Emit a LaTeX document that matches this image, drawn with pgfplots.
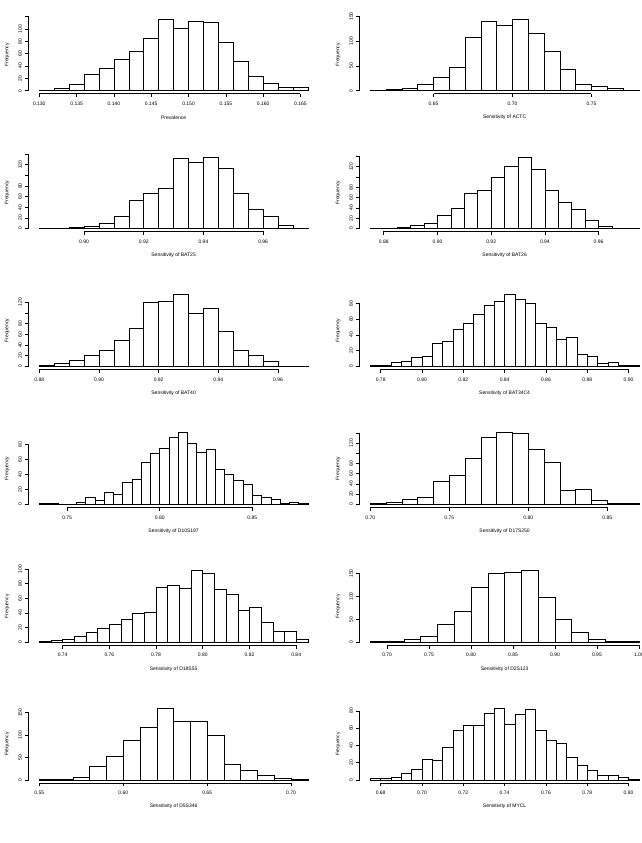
\documentclass[border=0pt]{standalone}
\usepackage{fontspec}
\setmainfont{Liberation Sans}
\usepackage{pgfplots}
\pgfplotsset{compat=1.18}
\newcommand{\lims}[3]{%
  \pgfmathsetmacro{\XL}{#1-0.04*(#2-#1)}%
  \pgfmathsetmacro{\XH}{#2+0.04*(#2-#1)}%
  \pgfmathsetmacro{\YL}{-0.04*#3}%
  \pgfmathsetmacro{\YH}{1.04*#3}}
\newcommand{\rax}[3]{%
  \draw[line width=0.6bp] (axis cs:#1,\YL) -- (axis cs:#2,\YL);
  \draw[line width=0.6bp] (axis cs:\XL,0) -- (axis cs:\XL,#3);}
\pgfplotsset{rh/.style={
  scale only axis, width=290bp, height=77.5bp, anchor=south west,
  xmin=\XL, xmax=\XH, ymin=\YL, ymax=\YH,
  axis lines*=left, axis line style={draw=none,-},
  tick align=outside, major tick length=3.5bp,
  tick style={black, line width=0.6bp},
  minor tick num=0,
  ticklabel style={font=\fontsize{5bp}{6bp}\selectfont, inner sep=1.5bp},
  xticklabel style={anchor=north},
  yticklabel style={rotate=90, anchor=south},
  xticklabel shift=3.2bp, yticklabel shift=1.6bp,
  ylabel=Frequency,
  xlabel style={at={(axis description cs:0.5,-0.306)}, anchor=center, font=\fontsize{5bp}{6bp}\selectfont},
  ylabel style={at={(axis description cs:-0.0741,0.5)}, rotate=0, anchor=center, font=\fontsize{5bp}{6bp}\selectfont},
  clip=false,
}}
\tikzset{hbar/.style={ybar interval, fill=white, draw=black, line width=0.6bp}}
\begin{document}
\begin{tikzpicture}
\useasboundingbox (0,0) rectangle (642bp,843bp);
% ---------- Row 1 ----------
\lims{0.130}{0.166}{116}
\begin{axis}[rh, at={(28.6bp,749.4bp)}, xlabel={Prevalence},
  xtick={0.130,0.135,0.140,0.145,0.150,0.155,0.160,0.165},
  xticklabels={0.130,0.135,0.140,0.145,0.150,0.155,0.160,0.165},
  ytick={0,20,40,60,80,100,120}, yticklabels={0,20,40,60,80,100,}]
\addplot[hbar] coordinates {(0.130,1)(0.132,4)(0.134,10)(0.136,26)(0.138,36)(0.140,50)(0.142,64)(0.144,84)(0.146,116)(0.148,101)(0.150,112)(0.152,110)(0.154,78)(0.156,47)(0.158,24)(0.160,12)(0.162,6)(0.164,5)(0.166,0)};
\rax{0.130}{0.165}{120}
\end{axis}
\lims{0.61}{0.78}{145}
\begin{axis}[rh, at={(359.6bp,749.4bp)}, xlabel={Sensitivity of ACTC},
  xtick={0.65,0.70,0.75}, xticklabels={0.65,0.70,0.75},
  ytick={0,50,100,150}, yticklabels={0,50,100,150}]
\addplot[hbar] coordinates {(0.61,1)(0.62,3)(0.63,5)(0.64,12)(0.65,28)(0.66,48)(0.67,107)(0.68,140)(0.69,132)(0.70,145)(0.71,117)(0.72,80)(0.73,44)(0.74,12)(0.75,9)(0.76,5)(0.77,1)(0.78,0)};
\rax{0.65}{0.75}{150}
\end{axis}
% ---------- Row 2 ----------
\lims{0.885}{0.975}{135}
\begin{axis}[rh, at={(28.6bp,611.54bp)}, xlabel={Sensitivity of BAT25},
  xtick={0.90,0.92,0.94,0.96}, xticklabels={0.90,0.92,0.94,0.96},
  ytick={0,20,40,60,80,100,120,140}, yticklabels={0,20,40,60,80,,120,}]
\addplot[hbar] coordinates {(0.885,1)(0.890,1)(0.895,3)(0.900,4)(0.905,10)(0.910,24)(0.915,54)(0.920,66)(0.925,76)(0.930,132)(0.935,124)(0.940,135)(0.945,114)(0.950,67)(0.955,37)(0.960,24)(0.965,7)(0.970,1)(0.975,0)};
\rax{0.90}{0.96}{140}
\end{axis}
\lims{0.875}{0.975}{139}
\begin{axis}[rh, at={(359.6bp,611.54bp)}, xlabel={Sensitivity of BAT26},
  xtick={0.88,0.90,0.92,0.94,0.96}, xticklabels={0.88,0.90,0.92,0.94,0.96},
  ytick={0,20,40,60,80,100,120,140}, yticklabels={0,20,40,60,80,,120,}]
\addplot[hbar] coordinates {(0.875,1)(0.880,1)(0.885,3)(0.890,6)(0.895,10)(0.900,26)(0.905,39)(0.910,68)(0.915,74)(0.920,100)(0.925,121)(0.930,139)(0.935,115)(0.940,74)(0.945,50)(0.950,37)(0.955,17)(0.960,5)(0.965,1)(0.970,1)(0.975,0)};
\rax{0.88}{0.96}{140}
\end{axis}
% ---------- Row 3 ----------
\lims{0.880}{0.970}{134}
\begin{axis}[rh, at={(28.6bp,473.68bp)}, xlabel={Sensitivity of BAT40},
  xtick={0.88,0.90,0.92,0.94,0.96}, xticklabels={0.88,0.90,0.92,0.94,0.96},
  ytick={0,20,40,60,80,100,120}, yticklabels={0,20,40,60,80,,120}]
\addplot[hbar] coordinates {(0.880,2)(0.885,6)(0.890,12)(0.895,21)(0.900,31)(0.905,48)(0.910,71)(0.915,119)(0.920,122)(0.925,134)(0.930,99)(0.935,109)(0.940,66)(0.945,30)(0.950,21)(0.955,10)(0.960,1)(0.965,1)(0.970,0)};
\rax{0.88}{0.96}{120}
\end{axis}
\lims{0.775}{0.905}{91}
\begin{axis}[rh, at={(359.6bp,473.68bp)}, xlabel={Sensitivity of BAT34C4},
  xtick={0.78,0.80,0.82,0.84,0.86,0.88,0.90}, xticklabels={0.78,0.80,0.82,0.84,0.86,0.88,0.90},
  ytick={0,20,40,60,80}, yticklabels={0,20,40,60,80}]
\addplot[hbar] coordinates {(0.775,1)(0.780,1)(0.785,5)(0.790,6)(0.795,11)(0.800,13)(0.805,29)(0.810,32)(0.815,47)(0.820,55)(0.825,66)(0.830,77)(0.835,82)(0.840,91)(0.845,85)(0.850,80)(0.855,55)(0.860,50)(0.865,35)(0.870,37)(0.875,15)(0.880,13)(0.885,4)(0.890,5)(0.895,1)(0.900,1)(0.905,0)};
\rax{0.78}{0.90}{80}
\end{axis}
% ---------- Row 4 ----------
\lims{0.735}{0.880}{96}
\begin{axis}[rh, at={(28.6bp,335.82bp)}, xlabel={Sensitivity of D10S197},
  xtick={0.75,0.80,0.85}, xticklabels={0.75,0.80,0.85},
  ytick={0,20,40,60,80}, yticklabels={0,20,40,60,80}]
\addplot[hbar] coordinates {(0.735,1)(0.740,1)(0.745,0)(0.750,0)(0.755,3)(0.760,9)(0.765,5)(0.770,16)(0.775,13)(0.780,30)(0.785,33)(0.790,56)(0.795,68)(0.800,75)(0.805,89)(0.810,96)(0.815,81)(0.820,69)(0.825,73)(0.830,47)(0.835,40)(0.840,32)(0.845,27)(0.850,12)(0.855,9)(0.860,7)(0.865,1)(0.870,3)(0.875,1)(0.880,0)};
\rax{0.75}{0.85}{80}
\end{axis}
\lims{0.70}{0.87}{141}
\begin{axis}[rh, at={(359.6bp,335.82bp)}, xlabel={Sensitivity of D17S250},
  xtick={0.70,0.75,0.80,0.85}, xticklabels={0.70,0.75,0.80,0.85},
  ytick={0,20,40,60,80,100,120,140}, yticklabels={0,20,40,60,80,,120,}]
\addplot[hbar] coordinates {(0.70,1)(0.71,3)(0.72,10)(0.73,14)(0.74,46)(0.75,57)(0.76,90)(0.77,132)(0.78,141)(0.79,139)(0.80,109)(0.81,82)(0.82,28)(0.83,29)(0.84,7)(0.85,2)(0.86,2)(0.87,0)};
\rax{0.70}{0.85}{140}
\end{axis}
% ---------- Row 5 ----------
\lims{0.730}{0.845}{98}
\begin{axis}[rh, at={(28.6bp,197.96bp)}, xlabel={Sensitivity of D18S55},
  xtick={0.74,0.76,0.78,0.80,0.82,0.84}, xticklabels={0.74,0.76,0.78,0.80,0.82,0.84},
  ytick={0,20,40,60,80,100}, yticklabels={0,20,40,60,80,100}]
\addplot[hbar] coordinates {(0.730,1)(0.735,2)(0.740,4)(0.745,8)(0.750,13)(0.755,19)(0.760,25)(0.765,31)(0.770,40)(0.775,41)(0.780,75)(0.785,78)(0.790,73)(0.795,98)(0.800,94)(0.805,72)(0.810,66)(0.815,44)(0.820,48)(0.825,27)(0.830,15)(0.835,15)(0.840,4)(0.845,0)};
\rax{0.74}{0.84}{100}
\end{axis}
\lims{0.68}{1.00}{157}
\begin{axis}[rh, at={(359.6bp,197.96bp)}, xlabel={Sensitivity of D2S123},
  xtick={0.70,0.75,0.80,0.85,0.90,0.95,1.00}, xticklabels={0.70,0.75,0.80,0.85,0.90,0.95,1.00},
  ytick={0,50,100,150}, yticklabels={0,50,100,150}]
\addplot[hbar] coordinates {(0.68,2)(0.70,1)(0.72,7)(0.74,12)(0.76,38)(0.78,67)(0.80,119)(0.82,151)(0.84,153)(0.86,157)(0.88,98)(0.90,50)(0.92,22)(0.94,7)(0.96,1)(0.98,1)(1.00,0)};
\rax{0.70}{1.00}{150}
\end{axis}
% ---------- Row 6 ----------
\lims{0.55}{0.71}{160}
\begin{axis}[rh, at={(28.6bp,60.1bp)}, xlabel={Sensitivity of D5S346},
  xtick={0.55,0.60,0.65,0.70}, xticklabels={0.55,0.60,0.65,0.70},
  ytick={0,50,100,150}, yticklabels={0,50,100,150}]
\addplot[hbar] coordinates {(0.55,1)(0.56,1)(0.57,7)(0.58,30)(0.59,52)(0.60,88)(0.61,117)(0.62,160)(0.63,131)(0.64,131)(0.65,99)(0.66,35)(0.67,22)(0.68,10)(0.69,4)(0.70,1)(0.71,0)};
\rax{0.55}{0.70}{150}
\end{axis}
\lims{0.675}{0.805}{83}
\begin{axis}[rh, at={(359.6bp,60.1bp)}, xlabel={Sensitivity of MYCL},
  xtick={0.68,0.70,0.72,0.74,0.76,0.78,0.80}, xticklabels={0.68,0.70,0.72,0.74,0.76,0.78,0.80},
  ytick={0,20,40,60,80}, yticklabels={0,20,40,60,80}]
\addplot[hbar] coordinates {(0.675,2)(0.680,2)(0.685,3)(0.690,8)(0.695,12)(0.700,24)(0.705,23)(0.710,38)(0.715,57)(0.720,63)(0.725,63)(0.730,77)(0.735,83)(0.740,64)(0.745,76)(0.750,82)(0.755,57)(0.760,46)(0.765,43)(0.770,26)(0.775,17)(0.780,11)(0.785,6)(0.790,5)(0.795,3)(0.800,1)(0.805,0)};
\rax{0.68}{0.80}{80}
\end{axis}
\end{tikzpicture}
\end{document}
